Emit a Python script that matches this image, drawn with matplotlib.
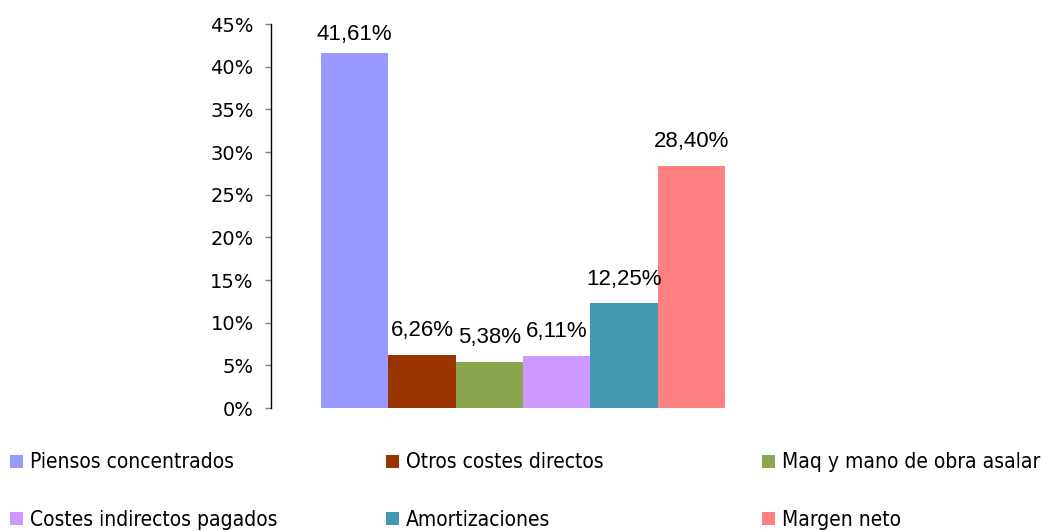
import matplotlib
matplotlib.use("Agg")
import matplotlib.pyplot as plt
from matplotlib.patches import Patch
from matplotlib.ticker import MultipleLocator, FuncFormatter

categories = ["Piensos concentrados", "Otros costes directos", "Maq y mano de obra asalar",
              "Costes indirectos pagados", "Amortizaciones", "Margen neto"]
values = [41.61, 6.26, 5.38, 6.11, 12.25, 28.40]
labels = ["41,61%", "6,26%", "5,38%", "6,11%", "12,25%", "28,40%"]
colors = ["#9999FF", "#993300", "#8BA64E", "#CC99FF", "#4499B0", "#FF8080"]
yticks_max = 45

fig = plt.figure(figsize=(10.44, 5.31), dpi=100)
ax = fig.add_axes([271/1044, 1-408/531, (775-271)/1044, (408-24)/531])

n = len(values)
offsets = [i - (n - 1) / 2 for i in range(n)]
for i, (off, v, c, lab) in enumerate(zip(offsets, values, colors, labels)):
    cont = ax.bar(off, v, width=1.0, color=c, label=categories[i])
    ax.bar_label(cont, labels=[lab], padding=6 if i == 0 else 10,
                 fontsize=16, family="Liberation Sans")

ax.set_xlim(-3.74, 3.74)
ax.set_ylim(0, yticks_max)
ax.yaxis.set_major_locator(MultipleLocator(5))
ax.yaxis.set_major_formatter(FuncFormatter(lambda v, p: f"{int(round(v))}%"))
ax.set_xticks([])
for s in ["top", "right", "bottom"]:
    ax.spines[s].set_visible(False)
ax.spines["left"].set_color("black")
ax.spines["left"].set_linewidth(1.0)
ax.tick_params(axis="y", direction="out", length=4.5, width=1, color="#808080",
               pad=8, labelsize=14)
for t in ax.get_yticklabels():
    t.set_family("DejaVu Sans")

# legends in three columns
handles = [Patch(facecolor=c, edgecolor="none") for c in colors]
col_x = [10/1044, 386/1044, 762/1044]
for k in range(3):
    hs = [handles[k], handles[k + 3]]
    ls = [categories[k], categories[k + 3]]
    leg = fig.legend(hs, ls, loc="upper left", bbox_to_anchor=(col_x[k], 1 - 452.5/531),
                     frameon=False, fontsize=15, handlelength=0.6, handleheight=0.6,
                     handletextpad=0.36, labelspacing=1.79, borderaxespad=0, borderpad=0)
    for t in leg.get_texts():
        t.set_fontstretch("condensed")

fig.savefig("out.png", dpi=100)
